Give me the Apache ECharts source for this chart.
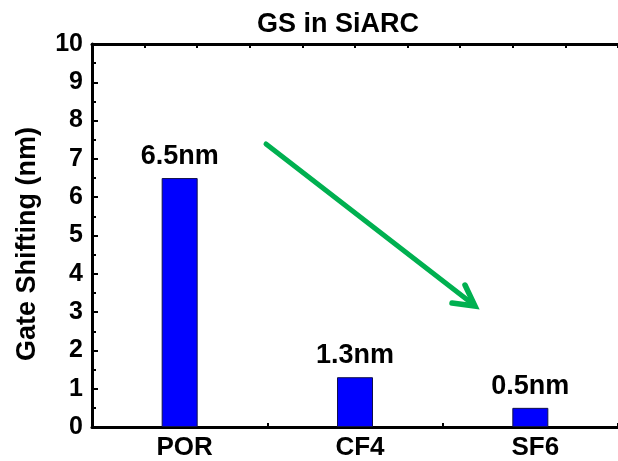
<!DOCTYPE html>
<html>
<head>
<meta charset="utf-8">
<script src="https://cdn.jsdelivr.net/npm/echarts@6/dist/echarts.min.js"></script>
<style>html,body{margin:0;padding:0;background:#fff;}#c{width:618px;height:461px;}</style>
</head>
<body>
<div id="c"></div>
<script>
const categories = ['POR', 'CF4', 'SF6'];
const gateShift = [6.5, 1.3, 0.5];
const yTicks = [0, 1, 2, 3, 4, 5, 6, 7, 8, 9, 10];

const FONT = '"Liberation Sans", Arial, sans-serif';
const chart = echarts.init(document.getElementById('c'), null, {renderer: 'canvas'});
chart.setOption({
  animation: false,
  backgroundColor: '#fff',
  title: {
    text: 'GS in SiARC',
    left: 252, top: 6,
    textStyle: {fontFamily: FONT, fontWeight: 'bold', fontSize: 27, color: '#000'}
  },
  grid: {left: 92, top: 44, width: 532, bottom: 34, containLabel: false},
  xAxis: [
    {
      type: 'category', position: 'bottom', data: categories,
      axisLine: {lineStyle: {color: '#000', width: 3}},
      axisTick: {show: false},
      axisLabel: {fontFamily: FONT, fontWeight: 'bold', fontSize: 26, color: '#000', margin: 8,
        padding: [0, 0, 0, 10]}
    },
    {
      type: 'value', position: 'bottom', min: 0, max: 6, interval: 1,
      axisLine: {show: false},
      axisTick: {show: true, inside: true, length: 4, lineStyle: {color: '#000', width: 2}},
      axisLabel: {show: false}, splitLine: {show: false}
    },
    {
      type: 'value', position: 'top', min: 0, max: 10, interval: 1,
      axisLine: {show: true, lineStyle: {color: '#000', width: 3}},
      axisTick: {show: true, inside: true, length: 4, lineStyle: {color: '#000', width: 2}},
      axisLabel: {show: false}, splitLine: {show: false}
    }
  ],
  yAxis: {
    type: 'value', min: yTicks[0], max: yTicks[yTicks.length - 1], interval: 1,
    axisLine: {show: true, lineStyle: {color: '#000', width: 3}},
    axisTick: {show: true, inside: true, length: 6, lineStyle: {color: '#000', width: 2}},
    minorTick: {show: true, splitNumber: 2, length: 4, lineStyle: {color: '#000', width: 2}},
    axisLabel: {fontFamily: FONT, fontWeight: 'bold', fontSize: 25, color: '#000', margin: 9},
    splitLine: {show: false}
  },
  series: [{
    type: 'bar', xAxisIndex: 0, data: gateShift, barWidth: 36,
    itemStyle: {color: '#0000ff', borderColor: '#10104a', borderWidth: 1},
    label: {show: true, position: 'top', distance: 8, formatter: '{c}nm',
      fontFamily: FONT, fontWeight: 'bold', fontSize: 27, color: '#000'}
  }],
  graphic: [
    {
      type: 'text', x: 28, y: 244, rotation: Math.PI / 2,
      style: {text: 'Gate Shifting (nm)', fontFamily: FONT, fontWeight: 'bold', fontSize: 27,
        fill: '#000', textAlign: 'center', textVerticalAlign: 'middle'}
    },
    {
      type: 'polyline',
      shape: {points: [[266, 144], [474, 305]]},
      style: {stroke: '#00b050', lineWidth: 5, lineCap: 'round'}
    },
    {
      type: 'polyline',
      shape: {points: [[452, 303], [475, 306], [465, 285]]},
      style: {stroke: '#00b050', lineWidth: 5.5, lineCap: 'round', lineJoin: 'miter', fill: null}
    }
  ]
});
</script>
</body>
</html>
